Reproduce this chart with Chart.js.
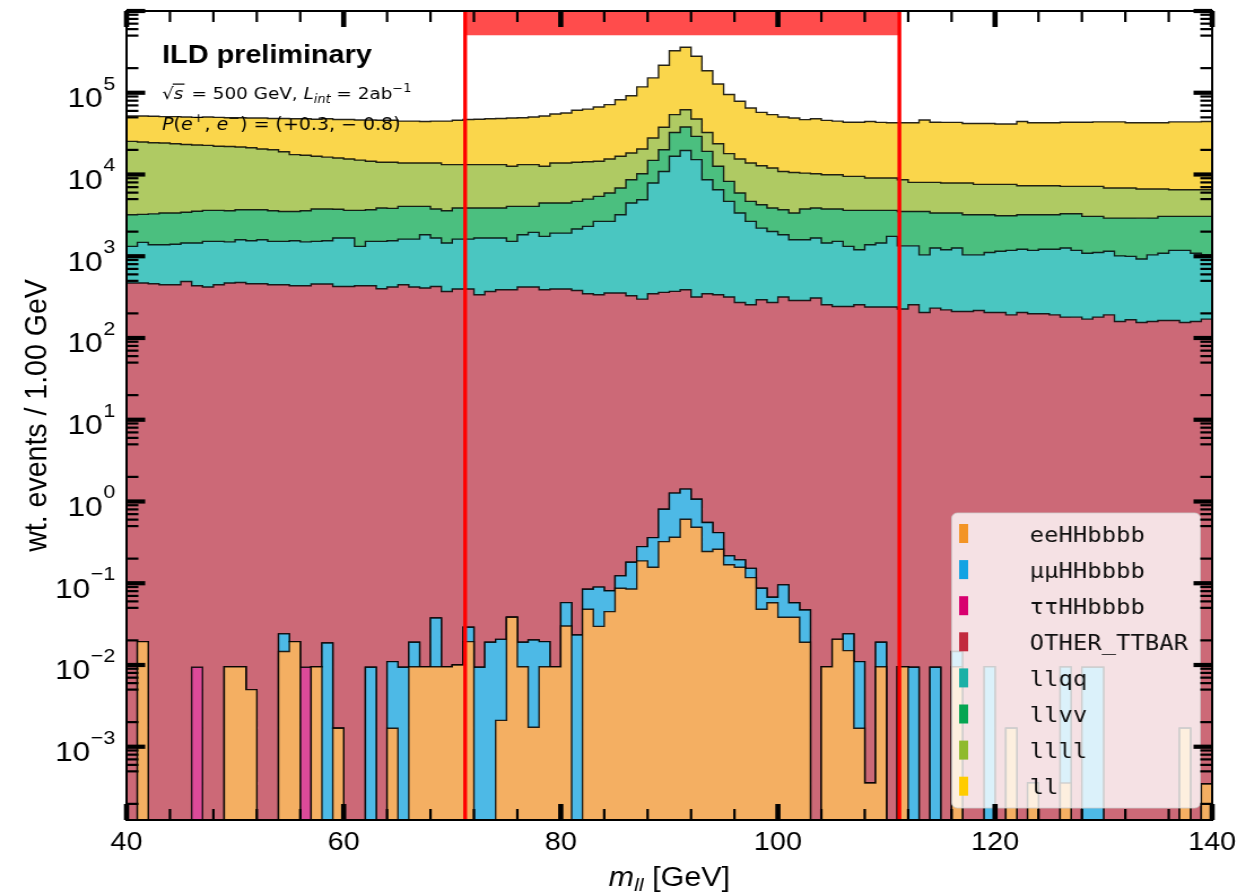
<!DOCTYPE html>
<html>
<head>
<meta charset="utf-8">
<script src="https://cdn.jsdelivr.net/npm/chart.js@4.4.1/dist/chart.umd.min.js"></script>
<style>
  html, body { margin: 0; padding: 0; background: #ffffff; overflow: hidden; }
  #wrap { width: 1095px; height: 893px; transform: scaleX(1.12968); transform-origin: 0 0; }
  canvas { display: block; }
</style>
</head>
<body>
<div id="wrap"><canvas id="chart" width="1095" height="893"></canvas></div>
<script>
// ---- histogram binning: m_ll from 40 to 140 GeV, 1 GeV bins ----
const binEdges = [40,41,42,43,44,45,46,47,48,49,50,51,52,53,54,55,56,57,58,59,
  60,61,62,63,64,65,66,67,68,69,70,71,72,73,74,75,76,77,78,79,
  80,81,82,83,84,85,86,87,88,89,90,91,92,93,94,95,96,97,98,99,
  100,101,102,103,104,105,106,107,108,109,110,111,112,113,114,115,116,117,118,119,
  120,121,122,123,124,125,126,127,128,129,130,131,132,133,134,135,136,137,138,139,140];

// ---- weighted events per bin, one array per process ----
const eeHHbbbb = [0,0.0193,0,0,0,0,0,0,0,0.0095,
  0.0095,0.005,0,0,0.0146,0.0193,0,0.0095,0,0.00168,
  0,0,0,0,0.00168,0,0.0095,0.0095,0.0095,0.0095,
  0.0100,0.0193,0,0,0.0021,0.0384,0.0095,0.00173,0.0095,0.0095,
  0.030,0,0.048,0.0297,0.045,0.087,0.085,0.1875,0.157,0.323,
  0.366,0.607,0.484,0.244,0.261,0.168,0.157,0.117,0.048,0.0578,
  0.0384,0.0384,0.019,0,0.0095,0.0206,0.015,0.00168,0.00036,0.0095,
  0,0.0095,0,0,0,0,0.0095,0,0,0,
  0,0.00168,0,0.00036,0,0,0.00036,0,0,0,
  0,0,0,0,0,0,0,0.00168,0,0.00035];

const mumuHHbbbb = [0,0,0,0,0,0,0,0,0,0,
  0,0,0,0,0.0094,0,0,0,0.0186,0,
  0,0,0.0094,0,0.0093,0.0094,0.0095,0,0.028,0,
  0,0.0096,0.0094,0.019,0.0185,0,0.0095,0.0185,0.0098,0,
  0.028,0.0233,0.0365,0.06,0.036,0.036,0.096,0.093,0.204,0.48,
  0.9,0.81,0.58,0.31,0.155,0.048,0.036,0.035,0.039,0.0095,
  0.057,0.0194,0.028,0,0,0,0.009,0.0093,0,0.0095,
  0,0,0.0094,0,0.0094,0,0.0051,0,0,0.0095,
  0,0,0,0,0,0,0.0091,0,0.0094,0.0094,
  0,0,0,0,0,0,0,0,0,0];

const tautauHHbbbb = [0,0,0,0,0,0,0.0094,0,0,0,
  0,0,0,0,0,0,0.0094,0,0,0,
  0,0,0,0,0,0,0,0,0,0,
  0,0,0,0,0,0,0,0,0,0,
  0,0,0,0,0,0,0,0,0,0,
  0,0,0,0,0,0,0,0,0,0,
  0,0,0,0,0,0,0,0,0,0,
  0,0,0,0,0,0,0,0,0,0,
  0,0,0,0,0,0,0,0,0,0,
  0,0,0,0,0,0,0,0,0,0];

const otherTtbar = [470,470,460,448,448,492,435,420,448,470,
  478,460,460,448,448,435,435,457,457,427,
  427,435,435,400,420,448,420,408,427,371,
  397,397,338,371,389,389,420,420,389,397,
  397,381,347,338,355,355,328,299,347,361,
  370,388,316,347,338,317,272,255,294,272,
  317,288,288,308,255,243,243,255,239,239,
  239,226,255,205,232,221,211,211,217,205,
  205,192,205,198,198,192,180,180,170,180,
  192,159,167,155,159,164,164,155,159,170];

const llqq = [850,1010,920,932,952,958,1015,1100,1072,1030,
  1112,1090,1130,1072,1072,1115,1065,1063,1093,1243,
  1243,885,1085,1120,1130,1172,1200,1422,1243,1079,
  1223,1223,1332,1299,1281,1131,1410,1540,1361,1523,
  1523,1769,1973,2332,2315,2865,4152,4621,7523,10540,
  16330,19310,14880,8283,6162,4373,3108,2415,1916,1738,
  1513,1302,1302,1362,1195,1277,1077,945,1141,1211,
  1511,1114,1085,835,1028,979,1049,829,823,905,
  945,988,1015,982,1022,1028,1080,1000,920,930,
  958,851,828,770,881,926,1016,1025,931,870];

const llvv = [1900,1770,1920,2000,1980,2000,2100,2120,2120,2100,
  2120,2160,2120,2080,2010,1980,2100,2270,2240,2080,
  1970,2320,2180,2370,2300,2450,2450,2240,2120,2150,
  2270,2270,2220,2220,2220,2550,2240,2110,2730,2560,
  2560,2540,2680,2730,3270,3620,4150,5280,7030,9200,
  16000,18400,14100,10570,6100,3550,2560,2020,2060,1880,
  1880,1790,2200,2220,2340,2270,2320,2440,2260,2190,
  1890,2190,2190,2490,2120,2180,2120,2180,2180,2110,
  1980,1950,2000,2040,2000,2000,2050,2130,1980,1960,
  1780,1920,1935,2000,1890,1980,1890,1890,1980,2030];

const llll = [22180,21750,21200,20900,20400,19850,19450,19060,18560,18400,
  17990,17490,16790,16500,15470,13970,13600,12910,12510,12150,
  11860,11360,10800,10210,10250,9730,9730,9730,10010,9600,
  9310,9310,9310,9310,9310,8530,9130,9130,8120,9320,
  9320,9410,9300,9100,9560,9860,9670,10300,13100,17700,
  21300,23900,18500,13500,11200,9760,9560,9110,8530,8110,
  7190,7220,6610,6310,6160,6160,5840,5840,5420,5420,
  5420,5100,4470,4470,4620,4490,4490,4650,4350,4350,
  4440,4440,4070,4070,4070,4070,3840,3840,4080,4080,
  3900,3900,3900,3710,3710,3570,3430,3430,3430,3430];

const ll = [26600,27000,27000,26700,27200,27200,27000,27800,27800,27500,
  27800,27800,28500,28400,29500,30500,30800,30800,31700,31100,
  31500,31500,32000,31900,31900,31200,31200,30700,31200,31800,
  32800,33800,34300,34800,35300,36400,36300,37300,39400,41200,
  42800,46900,48700,52500,56000,65300,73700,97500,124000,179200,
  273000,298000,231200,153300,104200,77000,63100,51200,44800,42000,
  39700,38400,36500,37800,36000,35000,34000,34000,35400,34400,
  33900,34400,35000,38500,35500,35600,35600,34100,34400,34400,
  33900,33900,37200,35700,35700,35700,36400,36400,36400,36900,
  37200,37200,36200,36400,36400,36400,37500,37500,37500,38000];

// process names as drawn in the legend (stack order, bottom first)
const processNames = ['eeHHbbbb', 'μμHHbbbb', 'ττHHbbbb', 'OTHER_TTBAR', 'llqq', 'llvv', 'llll', 'll'];
const processValues = [eeHHbbbb, mumuHHbbbb, tautauHHbbbb, otherTtbar, llqq, llvv, llll, ll];

// Z-window cut edges [GeV]
const massWindow = [71.19, 111.19];

// axis ticks
const xTickLabels = [40, 60, 80, 100, 120, 140];
const yDecades = [-3, -2, -1, 0, 1, 2, 3, 4, 5];

// ---- styles ----
const fillColors = ['#F4AF62', '#4DB9E6', '#DC4A99', '#CC6977', '#4AC6C1', '#4BBF7F', '#AFCA63', '#FAD64B'];
const swatchColors = ['#F39425', '#12A3E3', '#D8006F', '#C22A3E', '#1AB0A6', '#05A552', '#8FBA2C', '#FFCC00'];
const Y_MIN = 1.27e-4, Y_MAX = 1.0e6;

// stacked cumulative outlines (histogram stack), clamped to the log-axis floor
const stackedDatasets = [];
let running = new Array(eeHHbbbb.length).fill(0);
processValues.forEach((vals, k) => {
  running = running.map((v, i) => v + vals[i]);
  const cum = running.slice();
  const pts = binEdges.map((e, i) => ({ x: e, y: Math.max(cum[Math.min(i, cum.length - 1)], Y_MIN) }));
  stackedDatasets.push({
    label: processNames[k],
    data: pts,
    stepped: 'before',
    borderColor: 'rgba(0,0,0,0.85)',
    borderWidth: 1.4,
    backgroundColor: fillColors[k],
    fill: k === 0 ? 'start' : '-1',
    pointRadius: 0,
    tension: 0
  });
});

const SANS = '"Liberation Sans", Arial, Helvetica, sans-serif';
const DJV = '"DejaVu Sans", sans-serif';
const MONO = '"DejaVu Sans Mono", monospace';

function richText(ctx, x, y, parts) {
  let cx = x;
  for (const p of parts) {
    ctx.font = p.f;
    ctx.fillText(p.t, cx, y + (p.dy || 0));
    const w = ctx.measureText(p.t).width;
    if (p.over) {
      ctx.fillRect(cx - 1, y - p.over, w + 2, 1.2);
    }
    cx += w + (p.gap || 0);
  }
  return cx;
}

const decorPlugin = {
  id: 'decor',
  afterDatasetsDraw(chart) {
    const { ctx, chartArea: a, scales: { x, y } } = chart;
    ctx.save();

    // Z-window: selected region band at the top and its two edges
    const xl = x.getPixelForValue(massWindow[0]);
    const xr = x.getPixelForValue(massWindow[1]);
    ctx.fillStyle = 'rgba(255,0,0,0.7)';
    ctx.fillRect(xl, a.top, xr - xl, (a.bottom - a.top) * 0.03);
    ctx.strokeStyle = '#ff0000';
    ctx.lineWidth = 3.4;
    ctx.beginPath();
    ctx.moveTo(xl, a.top); ctx.lineTo(xl, a.bottom);
    ctx.moveTo(xr, a.top); ctx.lineTo(xr, a.bottom);
    ctx.stroke();

    // experiment / run labels
    ctx.fillStyle = '#000';
    ctx.textBaseline = 'alphabetic';
    ctx.textAlign = 'left';
    ctx.font = `bold 25.5px ${SANS}`;
    ctx.fillText('ILD preliminary', 143.5, 63);
    const F2 = 16.3;
    richText(ctx, 143.5, 99, [
      { t: '√', f: `${F2}px ${DJV}` },
      { t: 's', f: `italic ${F2}px ${DJV}`, over: F2 * 0.95, gap: 2 },
      { t: ' = 500 GeV, ', f: `${F2}px ${DJV}` },
      { t: 'L', f: `italic ${F2}px ${DJV}` },
      { t: 'int', f: `italic ${F2 * 0.7}px ${DJV}`, dy: F2 * 0.22 },
      { t: ' = 2ab', f: `${F2}px ${DJV}` },
      { t: '−1', f: `${F2 * 0.7}px ${DJV}`, dy: -F2 * 0.45 }
    ]);
    const F3 = 16.8;
    richText(ctx, 143.5, 129.5, [
      { t: 'P', f: `italic ${F3}px ${DJV}` },
      { t: '(', f: `${F3}px ${DJV}` },
      { t: 'e', f: `italic ${F3}px ${DJV}` },
      { t: '+', f: `${F3 * 0.75}px ${DJV}`, dy: -F3 * 0.42 },
      { t: ', ', f: `${F3}px ${DJV}` },
      { t: 'e', f: `italic ${F3}px ${DJV}` },
      { t: '−', f: `${F3 * 0.75}px ${DJV}`, dy: -F3 * 0.42 },
      { t: ') = (+0.3, − 0.8)', f: `${F3}px ${DJV}` }
    ]);

    // legend box (semi-transparent, inside the axes)
    const lx = 842.5, ly = 513, lw = 220, lh = 295;
    ctx.fillStyle = 'rgba(255,255,255,0.8)';
    ctx.strokeStyle = 'rgba(205,205,205,0.8)';
    ctx.lineWidth = 1;
    ctx.beginPath();
    ctx.roundRect(lx, ly, lw, lh, 5);
    ctx.fill();
    ctx.stroke();
    ctx.font = `21px ${MONO}`;
    const pitch = 12.75;
    processNames.forEach((name, k) => {
      const yc = 533.5 + k * 36.1;
      ctx.fillStyle = swatchColors[k];
      ctx.fillRect(849, yc - 9.5, 8, 19);
      ctx.fillStyle = '#111';
      [...name].forEach((ch, j) => ctx.fillText(ch, 911.5 + j * pitch, yc + 8));
    });

    // inward ticks on all four sides
    ctx.fillStyle = '#000';
    for (let v = 40; v <= 140; v += 4) {
      const px = x.getPixelForValue(v);
      const major = v % 20 === 0;
      const len = major ? 16 : 11;
      const w = major ? 4.6 : 2.2;
      ctx.fillRect(px - w / 2, a.bottom - len, w, len);
      ctx.fillRect(px - w / 2, a.top, w, len);
    }
    for (let k = -4; k <= 6; k++) {
      for (const m of [1, 2, 5, 6, 7, 8, 9]) {
        const v = m * Math.pow(10, k);
        if (v < Y_MIN || v > Y_MAX * 1.0001) continue;
        const py = y.getPixelForValue(v);
        const major = m === 1;
        const len = major ? 16.5 : 10.5;
        const h = major ? 4.2 : 2.2;
        ctx.fillRect(a.left, py - h / 2, len, h);
        ctx.fillRect(a.right - len, py - h / 2, len, h);
      }
    }
    // axes frame
    ctx.strokeStyle = '#000';
    ctx.lineWidth = 2;
    ctx.strokeRect(a.left, a.top, a.right - a.left, a.bottom - a.top);

    // x tick labels
    ctx.fillStyle = '#000';
    ctx.textAlign = 'center';
    ctx.font = `25.5px ${SANS}`;
    xTickLabels.forEach(v => ctx.fillText(String(v), x.getPixelForValue(v), 850));

    // y tick labels 10^n
    ctx.textAlign = 'left';
    yDecades.forEach(n => {
      const py = y.getPixelForValue(Math.pow(10, n));
      const exp = n < 0 ? '−' + Math.abs(n) : String(n);
      ctx.font = `19px ${SANS}`;
      const we = ctx.measureText(exp).width;
      ctx.font = `28px ${SANS}`;
      const wb = ctx.measureText('10').width;
      const xEnd = 102;
      ctx.fillText('10', xEnd - we - wb - 0.5, py + 14.5);
      ctx.font = `19px ${SANS}`;
      ctx.fillText(exp, xEnd - we, py - 3);
    });

    // axis titles
    ctx.textAlign = 'left';
    ctx.font = `italic 27px ${SANS}`; const w1 = ctx.measureText('m').width;
    ctx.font = `italic 19px ${SANS}`; const w2 = ctx.measureText('ll').width;
    ctx.font = `27px ${SANS}`; const w3 = ctx.measureText(' [GeV]').width;
    const cx0 = (a.left + a.right) / 2 - (w1 + w2 + w3) / 2;
    richText(ctx, cx0, 886, [
      { t: 'm', f: `italic 27px ${SANS}` },
      { t: 'll', f: `italic 19px ${SANS}`, dy: 5 },
      { t: ' [GeV]', f: `27px ${SANS}` }
    ]);

    ctx.save();
    ctx.translate(41, (a.top + a.bottom) / 2);
    ctx.rotate(-Math.PI / 2);
    ctx.textAlign = 'center';
    ctx.font = `28.5px ${SANS}`;
    ctx.fillText('wt. events / 1.00 GeV', 0, 0);
    ctx.restore();

    ctx.restore();
  }
};

new Chart(document.getElementById('chart'), {
  type: 'line',
  data: { datasets: stackedDatasets },
  options: {
    responsive: false,
    animation: false,
    devicePixelRatio: 1,
    layout: { padding: { left: 0, right: 22, top: 11, bottom: 0 } },
    plugins: { legend: { display: false }, tooltip: { enabled: false }, filler: { propagate: false } },
    scales: {
      x: {
        type: 'linear', min: 40, max: 140, bounds: 'data',
        ticks: { display: false }, grid: { display: false }, border: { display: false },
        afterFit(s) { s.height = 73; }
      },
      y: {
        type: 'logarithmic', min: Y_MIN, max: Y_MAX, bounds: 'data',
        ticks: { display: false }, grid: { display: false }, border: { display: false },
        afterFit(s) { s.width = 112; }
      }
    }
  },
  plugins: [decorPlugin]
});
</script>
</body>
</html>
